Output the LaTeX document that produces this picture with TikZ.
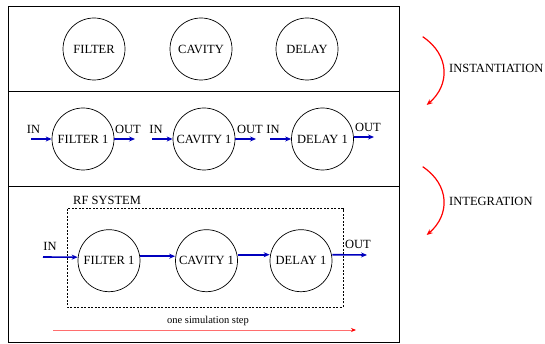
\documentclass[tikz,border=0pt]{standalone}
\usepackage{fontspec}
\setmainfont{Liberation Serif}
\usetikzlibrary{arrows.meta,calc}
\definecolor{flowblue}{RGB}{0,0,190}
\definecolor{lightred}{RGB}{255,110,110}
\begin{document}
\begin{tikzpicture}[x=1pt,y=-1pt,
  comp/.style={circle,draw,line width=0.7pt,minimum size=62pt,inner sep=0pt,font=\fontsize{12.5}{13}\selectfont},
  lbl/.style={font=\fontsize{12.5}{13}\selectfont,inner sep=0pt},
  flow/.style={draw=flowblue,line width=1.6pt,-{Stealth[length=6pt,width=5pt]}},
  redarc/.style={draw=red,line width=1.2pt,-{Stealth[length=6pt,width=5pt]}},
  panel/.style={draw,line width=0.9pt}]
\useasboundingbox (0,0) rectangle (545,344);
% panels
\draw[panel] (8,6) rectangle (399,342);
\draw[panel] (8,91) -- (399,91);
\draw[panel] (8,186) -- (399,186);
% top row
\node[comp] (f0) at (94,49) {FILTER};
\node[comp] (c0) at (201,49) {CAVITY};
\node[comp] (d0) at (307,49) {DELAY};
% second row
\node[comp] (f1) at (83,139) {FILTER 1};
\node[comp] (c1) at (204,139) {CAVITY 1};
\node[comp] (d1) at (322.5,139) {DELAY 1};
\coordinate (fi) at (31,139);
\coordinate (fo) at (135,139);
\coordinate (ci) at (152,139);
\coordinate (co) at (256,139);
\coordinate (di) at (270,139);
\coordinate (do) at (374,137);
\draw[flow] (fi) -- (f1.west);
\draw[flow] (f1.east) -- (fo);
\draw[flow] (ci) -- (c1.west);
\draw[flow] (c1.east) -- (co);
\draw[flow] (di) -- (d1.west);
\draw[flow] ([yshift=2pt]d1.east) -- (do);
\node[lbl] (fil) at (33.5,129) {IN};
\node[lbl] (fol) at (128,129) {OUT};
\node[lbl] (cil) at (156,129) {IN};
\node[lbl] (col) at (250,129) {OUT};
\node[lbl] (dil) at (273,129) {IN};
\node[lbl] (dol) at (368,127) {OUT};
% third row
\draw[line width=0.6pt,dash pattern=on 2pt off 1.5pt] (67,208.7) rectangle (343,307);
\node[lbl,anchor=west] (rf) at (73,200.7) {RF SYSTEM};
\node[comp] (f2) at (109,260.7) {FILTER 1};
\node[comp] (c2) at (206.5,260.7) {CAVITY 1};
\node[comp] (d2) at (301,260.7) {DELAY 1};
\coordinate (sin) at (43,257);
\coordinate (sout) at (367,255);
\draw[flow] (sin) -- ([yshift=3.5pt]f2.west);
\draw[flow] ([yshift=4.5pt]f2.east) -- ([yshift=4.5pt]c2.west);
\draw[flow] ([yshift=6pt]c2.east) -- ([yshift=6pt]d2.west);
\draw[flow] ([yshift=6pt]d2.east) -- (sout);
\node[lbl] (inl) at (50,246) {IN};
\node[lbl] (outl) at (358,244) {OUT};
% simulation step
\coordinate (s0) at (53,330);
\coordinate (s1) at (356,330);
\draw[draw=lightred,line width=1pt,-{Stealth[length=5pt,width=4pt,red]}] (s0) -- (s1);
\node[font=\fontsize{10.5}{11}\selectfont,inner sep=0pt] (sl) at (208,321) {one simulation step};
% red arcs
\draw[redarc] (422.7,36.7) .. controls (450,55) and (450,85) .. (426.7,105);
\draw[redarc] (422.7,166.7) .. controls (450,185) and (450,215) .. (426.7,235);
\node[lbl,anchor=west] (inst) at (449,68) {INSTANTIATION};
\node[lbl,anchor=west] (integ) at (449,201) {INTEGRATION};
\end{tikzpicture}
\end{document}
